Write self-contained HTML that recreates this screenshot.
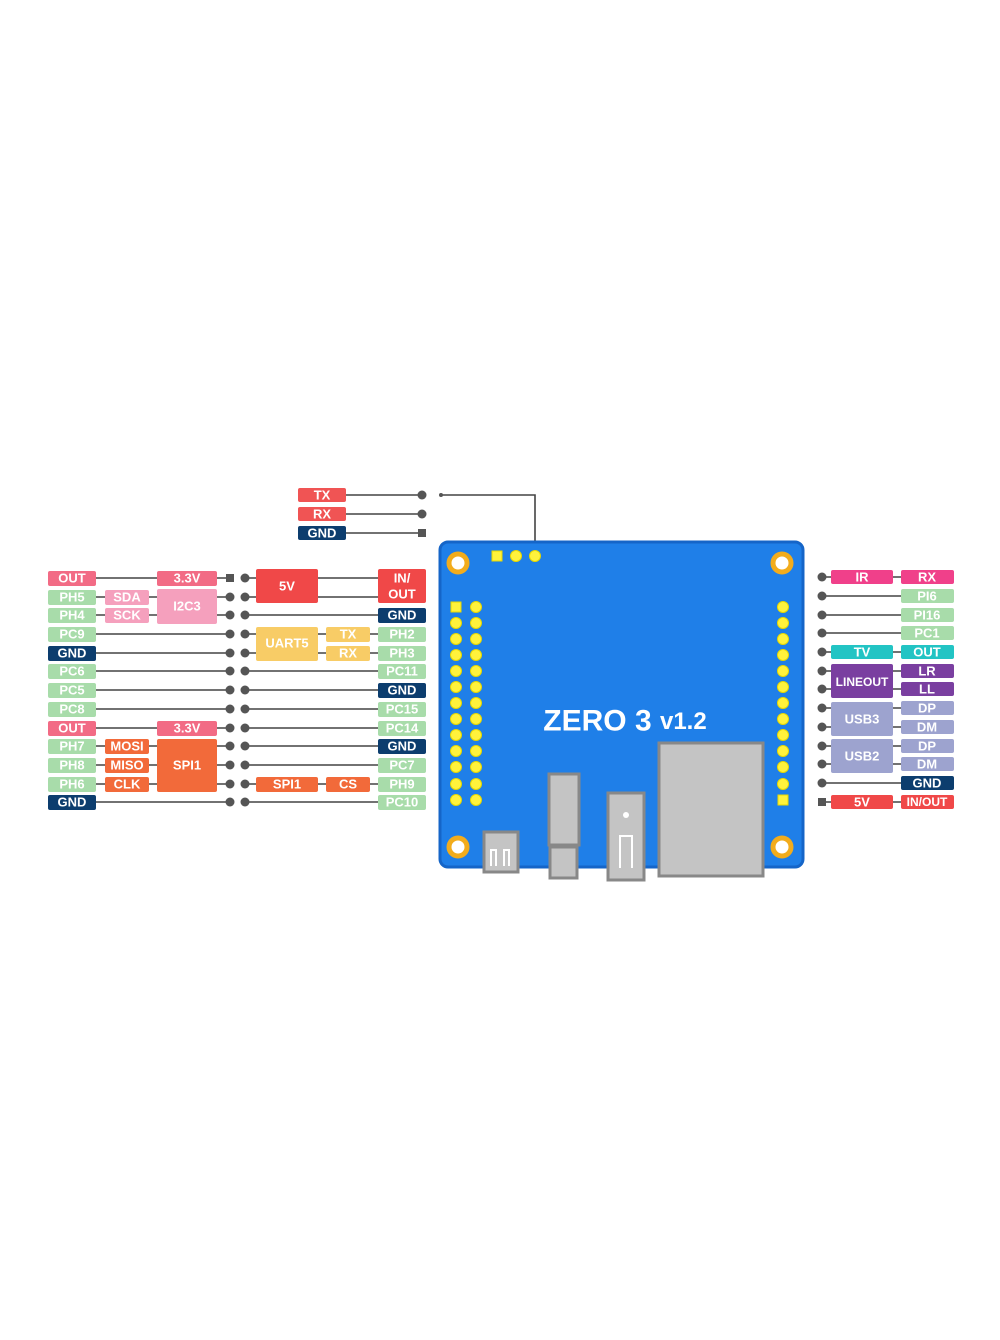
<!DOCTYPE html>
<html><head><meta charset="utf-8"><style>
html,body{margin:0;padding:0;background:#fff;width:1000px;height:1340px;overflow:hidden}
svg text{font-family:"Liberation Sans",sans-serif;font-weight:bold;fill:#fff;text-anchor:middle;dominant-baseline:central}
</style></head><body>
<svg width="1000" height="1340" viewBox="0 0 1000 1340" xmlns="http://www.w3.org/2000/svg">
<g stroke="#444" stroke-width="1.6" fill="none">
<line x1="346" y1="495" x2="422" y2="495"/><line x1="346" y1="514" x2="422" y2="514"/><line x1="346" y1="533" x2="422" y2="533"/>
<polyline points="441,495 535,495 535,555"/>
<line x1="96" y1="578" x2="230" y2="578"/><line x1="96" y1="597" x2="230" y2="597"/><line x1="96" y1="615" x2="230" y2="615"/>
<line x1="96" y1="634" x2="230" y2="634"/><line x1="96" y1="653" x2="230" y2="653"/><line x1="96" y1="671" x2="230" y2="671"/>
<line x1="96" y1="690" x2="230" y2="690"/><line x1="96" y1="709" x2="230" y2="709"/><line x1="96" y1="728" x2="230" y2="728"/>
<line x1="96" y1="746" x2="230" y2="746"/><line x1="96" y1="765" x2="230" y2="765"/><line x1="96" y1="784" x2="230" y2="784"/>
<line x1="96" y1="802" x2="230" y2="802"/>
<line x1="245" y1="578" x2="378" y2="578"/><line x1="245" y1="597" x2="378" y2="597"/><line x1="245" y1="615" x2="378" y2="615"/>
<line x1="245" y1="634" x2="378" y2="634"/><line x1="245" y1="653" x2="378" y2="653"/><line x1="245" y1="671" x2="378" y2="671"/>
<line x1="245" y1="690" x2="378" y2="690"/><line x1="245" y1="709" x2="378" y2="709"/><line x1="245" y1="728" x2="378" y2="728"/>
<line x1="245" y1="746" x2="378" y2="746"/><line x1="245" y1="765" x2="378" y2="765"/><line x1="245" y1="784" x2="378" y2="784"/>
<line x1="245" y1="802" x2="378" y2="802"/>
<line x1="822" y1="577" x2="901" y2="577"/><line x1="822" y1="596" x2="901" y2="596"/><line x1="822" y1="615" x2="901" y2="615"/>
<line x1="822" y1="633" x2="901" y2="633"/><line x1="822" y1="652" x2="901" y2="652"/><line x1="822" y1="671" x2="901" y2="671"/>
<line x1="822" y1="689" x2="901" y2="689"/><line x1="822" y1="708" x2="901" y2="708"/><line x1="822" y1="727" x2="901" y2="727"/>
<line x1="822" y1="746" x2="901" y2="746"/><line x1="822" y1="764" x2="901" y2="764"/><line x1="822" y1="783" x2="901" y2="783"/>
<line x1="822" y1="802" x2="901" y2="802"/>
</g>
<g fill="#555">
<circle cx="422" cy="495" r="4.5"/><circle cx="422" cy="514" r="4.5"/><rect x="418" y="529" width="8" height="8"/><circle cx="441" cy="495" r="2"/>
<rect x="226" y="574" width="8" height="8"/>
<circle cx="230" cy="597" r="4.5"/><circle cx="230" cy="615" r="4.5"/><circle cx="230" cy="634" r="4.5"/><circle cx="230" cy="653" r="4.5"/><circle cx="230" cy="671" r="4.5"/><circle cx="230" cy="690" r="4.5"/><circle cx="230" cy="709" r="4.5"/><circle cx="230" cy="728" r="4.5"/><circle cx="230" cy="746" r="4.5"/><circle cx="230" cy="765" r="4.5"/><circle cx="230" cy="784" r="4.5"/><circle cx="230" cy="802" r="4.5"/>
<circle cx="245" cy="578" r="4.5"/><circle cx="245" cy="597" r="4.5"/><circle cx="245" cy="615" r="4.5"/><circle cx="245" cy="634" r="4.5"/><circle cx="245" cy="653" r="4.5"/><circle cx="245" cy="671" r="4.5"/><circle cx="245" cy="690" r="4.5"/><circle cx="245" cy="709" r="4.5"/><circle cx="245" cy="728" r="4.5"/><circle cx="245" cy="746" r="4.5"/><circle cx="245" cy="765" r="4.5"/><circle cx="245" cy="784" r="4.5"/><circle cx="245" cy="802" r="4.5"/>
<circle cx="822" cy="577" r="4.5"/><circle cx="822" cy="596" r="4.5"/><circle cx="822" cy="615" r="4.5"/><circle cx="822" cy="633" r="4.5"/><circle cx="822" cy="652" r="4.5"/><circle cx="822" cy="671" r="4.5"/><circle cx="822" cy="689" r="4.5"/><circle cx="822" cy="708" r="4.5"/><circle cx="822" cy="727" r="4.5"/><circle cx="822" cy="746" r="4.5"/><circle cx="822" cy="764" r="4.5"/><circle cx="822" cy="783" r="4.5"/><rect x="818" y="798" width="8" height="8"/>
</g>
<g font-size="13">
<rect x="298" y="488" width="48" height="14" rx="2" fill="#f05454"/><text x="322" y="495">TX</text>
<rect x="298" y="507" width="48" height="14" rx="2" fill="#f05454"/><text x="322" y="514">RX</text>
<rect x="298" y="526" width="48" height="14" rx="2" fill="#0c3d6e"/><text x="322" y="533">GND</text>
<rect x="48" y="571" width="48" height="15" rx="2" fill="#f26b85"/><text x="72" y="578">OUT</text>
<rect x="48" y="590" width="48" height="15" rx="2" fill="#a8dcaa"/><text x="72" y="597">PH5</text>
<rect x="48" y="608" width="48" height="15" rx="2" fill="#a8dcaa"/><text x="72" y="615">PH4</text>
<rect x="48" y="627" width="48" height="15" rx="2" fill="#a8dcaa"/><text x="72" y="634">PC9</text>
<rect x="48" y="646" width="48" height="15" rx="2" fill="#0c3d6e"/><text x="72" y="653">GND</text>
<rect x="48" y="664" width="48" height="15" rx="2" fill="#a8dcaa"/><text x="72" y="671">PC6</text>
<rect x="48" y="683" width="48" height="15" rx="2" fill="#a8dcaa"/><text x="72" y="690">PC5</text>
<rect x="48" y="702" width="48" height="15" rx="2" fill="#a8dcaa"/><text x="72" y="709">PC8</text>
<rect x="48" y="721" width="48" height="15" rx="2" fill="#f26b85"/><text x="72" y="728">OUT</text>
<rect x="48" y="739" width="48" height="15" rx="2" fill="#a8dcaa"/><text x="72" y="746">PH7</text>
<rect x="48" y="758" width="48" height="15" rx="2" fill="#a8dcaa"/><text x="72" y="765">PH8</text>
<rect x="48" y="777" width="48" height="15" rx="2" fill="#a8dcaa"/><text x="72" y="784">PH6</text>
<rect x="48" y="795" width="48" height="15" rx="2" fill="#0c3d6e"/><text x="72" y="802">GND</text>
<rect x="157" y="571" width="60" height="15" rx="2" fill="#f26b85"/><text x="187" y="578">3.3V</text>
<rect x="105" y="590" width="44" height="15" rx="2" fill="#f5a0bd"/><text x="127" y="597">SDA</text>
<rect x="105" y="608" width="44" height="15" rx="2" fill="#f5a0bd"/><text x="127" y="615">SCK</text>
<rect x="157" y="589" width="60" height="35" rx="2" fill="#f5a0bd"/><text x="187" y="606">I2C3</text>
<rect x="157" y="721" width="60" height="15" rx="2" fill="#f26b85"/><text x="187" y="728">3.3V</text>
<rect x="105" y="739" width="44" height="15" rx="2" fill="#f26a3a"/><text x="127" y="746">MOSI</text>
<rect x="105" y="758" width="44" height="15" rx="2" fill="#f26a3a"/><text x="127" y="765">MISO</text>
<rect x="105" y="777" width="44" height="15" rx="2" fill="#f26a3a"/><text x="127" y="784">CLK</text>
<rect x="157" y="739" width="60" height="53" rx="2" fill="#f26a3a"/><text x="187" y="765">SPI1</text>
<rect x="256" y="569" width="62" height="34" rx="2" fill="#f04848"/><text x="287" y="586">5V</text>
<rect x="256" y="627" width="62" height="34" rx="2" fill="#f8cc66"/><text x="287" y="643">UART5</text>
<rect x="326" y="627" width="44" height="15" rx="2" fill="#f8cc66"/><text x="348" y="634">TX</text>
<rect x="326" y="646" width="44" height="15" rx="2" fill="#f8cc66"/><text x="348" y="653">RX</text>
<rect x="256" y="777" width="62" height="15" rx="2" fill="#f26a3a"/><text x="287" y="784">SPI1</text>
<rect x="326" y="777" width="44" height="15" rx="2" fill="#f26a3a"/><text x="348" y="784">CS</text>
<rect x="378" y="569" width="48" height="34" rx="2" fill="#f04848"/><text x="402" y="578">IN/</text><text x="402" y="594">OUT</text>
<rect x="378" y="608" width="48" height="15" rx="2" fill="#0c3d6e"/><text x="402" y="615">GND</text>
<rect x="378" y="627" width="48" height="15" rx="2" fill="#a8dcaa"/><text x="402" y="634">PH2</text>
<rect x="378" y="646" width="48" height="15" rx="2" fill="#a8dcaa"/><text x="402" y="653">PH3</text>
<rect x="378" y="664" width="48" height="15" rx="2" fill="#a8dcaa"/><text x="402" y="671">PC11</text>
<rect x="378" y="683" width="48" height="15" rx="2" fill="#0c3d6e"/><text x="402" y="690">GND</text>
<rect x="378" y="702" width="48" height="15" rx="2" fill="#a8dcaa"/><text x="402" y="709">PC15</text>
<rect x="378" y="721" width="48" height="15" rx="2" fill="#a8dcaa"/><text x="402" y="728">PC14</text>
<rect x="378" y="739" width="48" height="15" rx="2" fill="#0c3d6e"/><text x="402" y="746">GND</text>
<rect x="378" y="758" width="48" height="15" rx="2" fill="#a8dcaa"/><text x="402" y="765">PC7</text>
<rect x="378" y="777" width="48" height="15" rx="2" fill="#a8dcaa"/><text x="402" y="784">PH9</text>
<rect x="378" y="795" width="48" height="15" rx="2" fill="#a8dcaa"/><text x="402" y="802">PC10</text>
<rect x="831" y="570" width="62" height="14" rx="2" fill="#f0408a"/><text x="862" y="577">IR</text>
<rect x="901" y="570" width="53" height="14" rx="2" fill="#f0408a"/><text x="927" y="577">RX</text>
<rect x="901" y="589" width="53" height="14" rx="2" fill="#a8dcaa"/><text x="927" y="596">PI6</text>
<rect x="901" y="608" width="53" height="14" rx="2" fill="#a8dcaa"/><text x="927" y="615">PI16</text>
<rect x="901" y="626" width="53" height="14" rx="2" fill="#a8dcaa"/><text x="927" y="633">PC1</text>
<rect x="831" y="645" width="62" height="14" rx="2" fill="#22c4c4"/><text x="862" y="652">TV</text>
<rect x="901" y="645" width="53" height="14" rx="2" fill="#22c4c4"/><text x="927" y="652">OUT</text>
<rect x="831" y="664" width="62" height="34" rx="2" fill="#7a3fa0"/><text x="862" y="682" font-size="12">LINEOUT</text>
<rect x="901" y="664" width="53" height="14" rx="2" fill="#7a3fa0"/><text x="927" y="671">LR</text>
<rect x="901" y="682" width="53" height="14" rx="2" fill="#7a3fa0"/><text x="927" y="689">LL</text>
<rect x="831" y="702" width="62" height="34" rx="2" fill="#9da3cf"/><text x="862" y="719">USB3</text>
<rect x="901" y="701" width="53" height="14" rx="2" fill="#9da3cf"/><text x="927" y="708">DP</text>
<rect x="901" y="720" width="53" height="14" rx="2" fill="#9da3cf"/><text x="927" y="727">DM</text>
<rect x="831" y="739" width="62" height="34" rx="2" fill="#9da3cf"/><text x="862" y="756">USB2</text>
<rect x="901" y="739" width="53" height="14" rx="2" fill="#9da3cf"/><text x="927" y="746">DP</text>
<rect x="901" y="757" width="53" height="14" rx="2" fill="#9da3cf"/><text x="927" y="764">DM</text>
<rect x="901" y="776" width="53" height="14" rx="2" fill="#0c3d6e"/><text x="927" y="783">GND</text>
<rect x="831" y="795" width="62" height="14" rx="2" fill="#f04848"/><text x="862" y="802">5V</text>
<rect x="901" y="795" width="53" height="14" rx="2" fill="#f04848"/><text x="927" y="802" font-size="12">IN/OUT</text>
</g>
<rect x="440" y="542" width="363" height="325" rx="8" fill="#1f7fe8" stroke="#1565c8" stroke-width="3"/>
<g fill="#fff" stroke="#f2ac1c" stroke-width="5">
<circle cx="458" cy="563" r="9"/><circle cx="782" cy="563" r="9"/><circle cx="458" cy="847" r="9"/><circle cx="782" cy="847" r="9"/>
</g>
<g fill="#fff23c" stroke="#e8d800" stroke-width="1">
<rect x="492" y="551" width="10" height="10"/><circle cx="516" cy="556" r="5.5"/><circle cx="535" cy="556" r="5.5"/>
<rect x="451" y="602" width="10" height="10"/><circle cx="476" cy="607" r="5.5"/>
<circle cx="456" cy="623" r="5.5"/><circle cx="476" cy="623" r="5.5"/><circle cx="456" cy="639" r="5.5"/><circle cx="476" cy="639" r="5.5"/>
<circle cx="456" cy="655" r="5.5"/><circle cx="476" cy="655" r="5.5"/><circle cx="456" cy="671" r="5.5"/><circle cx="476" cy="671" r="5.5"/>
<circle cx="456" cy="687" r="5.5"/><circle cx="476" cy="687" r="5.5"/><circle cx="456" cy="703" r="5.5"/><circle cx="476" cy="703" r="5.5"/>
<circle cx="456" cy="719" r="5.5"/><circle cx="476" cy="719" r="5.5"/><circle cx="456" cy="735" r="5.5"/><circle cx="476" cy="735" r="5.5"/>
<circle cx="456" cy="751" r="5.5"/><circle cx="476" cy="751" r="5.5"/><circle cx="456" cy="767" r="5.5"/><circle cx="476" cy="767" r="5.5"/>
<circle cx="456" cy="784" r="5.5"/><circle cx="476" cy="784" r="5.5"/><circle cx="456" cy="800" r="5.5"/><circle cx="476" cy="800" r="5.5"/>
<circle cx="783" cy="607" r="5.5"/><circle cx="783" cy="623" r="5.5"/><circle cx="783" cy="639" r="5.5"/><circle cx="783" cy="655" r="5.5"/>
<circle cx="783" cy="671" r="5.5"/><circle cx="783" cy="687" r="5.5"/><circle cx="783" cy="703" r="5.5"/><circle cx="783" cy="719" r="5.5"/>
<circle cx="783" cy="735" r="5.5"/><circle cx="783" cy="751" r="5.5"/><circle cx="783" cy="767" r="5.5"/><circle cx="783" cy="784" r="5.5"/>
<rect x="778" y="795" width="10" height="10"/>
</g>
<text x="625" y="721" font-size="30" style="font-weight:bold">ZERO 3 <tspan font-size="24">v1.2</tspan></text>
<g fill="#c4c4c4" stroke="#888" stroke-width="3">
<rect x="484" y="832" width="34" height="40"/>
<rect x="549" y="774" width="30" height="71"/>
<rect x="550" y="847" width="27" height="31"/>
<rect x="608" y="793" width="36" height="87"/>
<rect x="659" y="743" width="104" height="133"/>
</g>
<g stroke="#fff" stroke-width="2" fill="none">
<polyline points="491,866 491,850 496,850 496,866"/><polyline points="504,866 504,850 509,850 509,866"/>
<polyline points="620,868 620,836 632,836 632,868"/>
</g>
<circle cx="626" cy="815" r="3" fill="#fff"/>
</svg>
</body></html>
